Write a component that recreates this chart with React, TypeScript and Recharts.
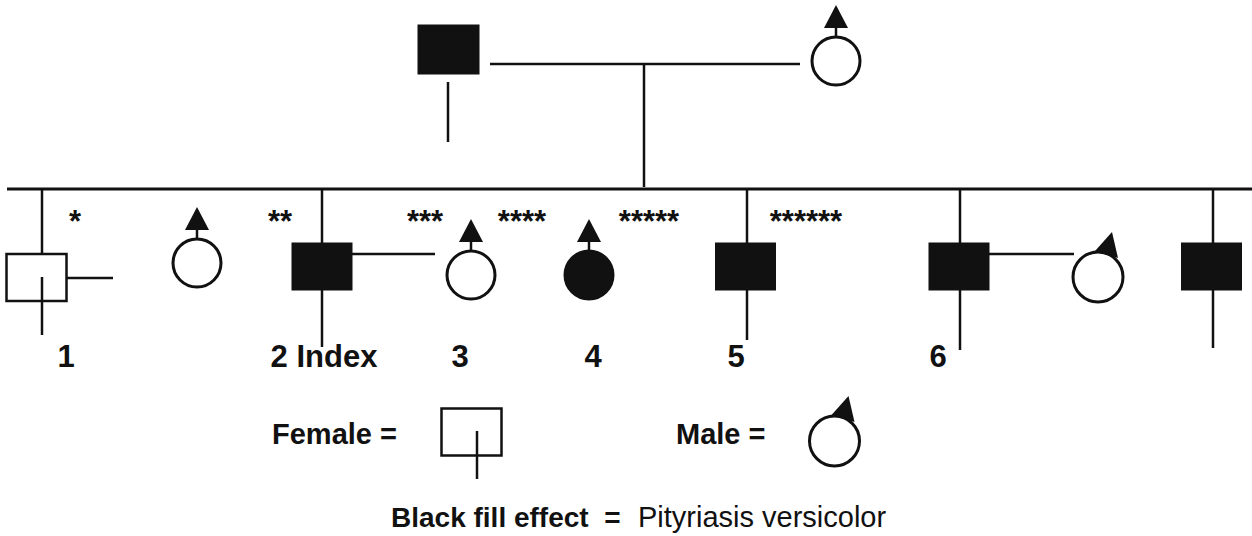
import React from 'react';
import { ScatterChart, Scatter, XAxis, YAxis, ReferenceLine } from 'recharts';

const W = 1252;
const H = 536;
const INK = '#111111';
const FONT = '"Liberation Sans", Arial, Helvetica, sans-serif';

// Pedigree individuals (sex: F = square, M = circle per the chart's legend)
const parents = [
  { id: 'I-1', x: 448.5, y: 49.5, sex: 'F', affected: true, arrow: 'none', big: true },
  { id: 'I-2', x: 836, y: 61, sex: 'M', affected: false, arrow: 'up', big: false },
];

const siblings = [
  { id: '1', x: 36.5, y: 277.5, sex: 'F', affected: false, arrow: 'none', big: false },
  { id: 'II-2', x: 197, y: 263, sex: 'M', affected: false, arrow: 'up', big: false },
  { id: '2', x: 322, y: 266.5, sex: 'F', affected: true, arrow: 'none', big: false },
  { id: '3', x: 471, y: 275, sex: 'M', affected: false, arrow: 'up', big: false },
  { id: '4', x: 589, y: 275, sex: 'M', affected: true, arrow: 'up', big: false },
  { id: '5', x: 745.5, y: 266.5, sex: 'F', affected: true, arrow: 'none', big: false },
  { id: '6', x: 959, y: 266.5, sex: 'F', affected: true, arrow: 'none', big: false },
  { id: '6-spouse', x: 1098, y: 277, sex: 'M', affected: false, arrow: 'tilt', big: false },
  { id: '7', x: 1211.5, y: 266.5, sex: 'F', affected: true, arrow: 'none', big: false },
];

const legendSymbols = [
  { id: 'female', x: 471.5, y: 432, sex: 'F', affected: false, arrow: 'none', big: false },
  { id: 'male', x: 834.5, y: 441, sex: 'M', affected: false, arrow: 'tilt', big: false },
];

// Connecting lines of the pedigree
const connections = [
  { x1: 448, y1: 82, x2: 448, y2: 142, w: 2.5 },
  { x1: 490, y1: 64, x2: 800, y2: 64, w: 2.5 },
  { x1: 644, y1: 64, x2: 644, y2: 187, w: 2.5 },
  { x1: 7, y1: 189, x2: 1252, y2: 189, w: 3 },
  { x1: 42, y1: 189, x2: 42, y2: 254, w: 2.5 },
  { x1: 42, y1: 277, x2: 42, y2: 335, w: 2.5 },
  { x1: 67, y1: 278, x2: 113, y2: 278, w: 2.5 },
  { x1: 322, y1: 189, x2: 322, y2: 243, w: 2.5 },
  { x1: 322, y1: 290, x2: 322, y2: 347, w: 2.5 },
  { x1: 352, y1: 254, x2: 435, y2: 254, w: 2.5 },
  { x1: 747, y1: 189, x2: 747, y2: 243, w: 2.5 },
  { x1: 747, y1: 290, x2: 747, y2: 340, w: 2.5 },
  { x1: 960, y1: 189, x2: 960, y2: 243, w: 2.5 },
  { x1: 960, y1: 290, x2: 960, y2: 350, w: 2.5 },
  { x1: 989, y1: 254, x2: 1074, y2: 254, w: 2.5 },
  { x1: 1213, y1: 189, x2: 1213, y2: 243, w: 2.5 },
  { x1: 1213, y1: 290, x2: 1213, y2: 348, w: 2.5 },
  { x1: 477, y1: 431, x2: 477, y2: 479, w: 2.5 },
];

// Text annotations
const starLabels = [
  { text: '*', x: 75, y: 232 },
  { text: '**', x: 280, y: 232 },
  { text: '***', x: 425, y: 232 },
  { text: '****', x: 522, y: 232 },
  { text: '*****', x: 649, y: 232 },
  { text: '******', x: 806, y: 232 },
];

const memberLabels = [
  { text: '1', x: 66, y: 367 },
  { text: '2 Index', x: 324, y: 367 },
  { text: '3', x: 460, y: 367 },
  { text: '4', x: 593, y: 367 },
  { text: '5', x: 736, y: 367 },
  { text: '6', x: 938, y: 367 },
];

const legendLabels = [
  { text: 'Female =', x: 272, y: 444, kind: 'legend' },
  { text: 'Male =', x: 676, y: 444, kind: 'legend' },
  { text: 'Black fill effect\u00a0\u00a0=', x: 391, y: 527, kind: 'noteBold' },
  { text: 'Pityriasis versicolor', x: 638, y: 527, kind: 'note' },
];

const TEXT_STYLE: Record<string, { size: number; bold: boolean }> = {
  star: { size: 31, bold: true },
  member: { size: 31, bold: true },
  legend: { size: 29, bold: true },
  noteBold: { size: 28, bold: true },
  note: { size: 29, bold: false },
};

const PersonShape = (props: any) => {
  const { cx, cy, payload } = props;
  if (cx == null || cy == null) return null;
  if (payload.sex === 'F') {
    const w = payload.big ? 61 : 60;
    const h = payload.big ? 49 : 47;
    return (
      <rect
        x={cx - w / 2}
        y={cy - h / 2}
        width={w}
        height={h}
        fill={payload.affected ? INK : 'none'}
        stroke={INK}
        strokeWidth={payload.affected ? 1 : 2.5}
      />
    );
  }
  const fill = payload.affected ? INK : '#ffffff';
  const r = payload.arrow === 'tilt' ? 25 : 24;
  const parts: any[] = [];
  parts.push(<circle key="c" cx={cx} cy={cy} r={r} fill={fill} stroke={INK} strokeWidth={3} />);
  if (payload.arrow === 'up') {
    const top = cy - r;
    const base = top - 9;
    const tip = base - 23;
    parts.push(<line key="s" x1={cx} y1={top} x2={cx} y2={base} stroke={INK} strokeWidth={2.5} />);
    parts.push(
      <polygon key="t" points={`${cx},${tip} ${cx - 12},${base} ${cx + 12},${base}`} fill={INK} />
    );
  } else if (payload.arrow === 'tilt') {
    parts.push(
      <polygon
        key="t"
        points={`${cx + 14},${cy - 45} ${cx - 3},${cy - 26} ${cx + 20},${cy - 19}`}
        fill={INK}
      />
    );
  }
  return <g>{parts}</g>;
};

const makeText = (anchor: 'start' | 'middle', defaultKind: string) => (props: any) => {
  const { cx, cy, payload } = props;
  if (cx == null || cy == null) return null;
  const st = TEXT_STYLE[payload.kind || defaultKind];
  return (
    <text
      x={cx}
      y={cy}
      textAnchor={anchor}
      fontFamily={FONT}
      fontSize={st.size}
      fontWeight={st.bold ? 'bold' : 'normal'}
      fill={INK}
    >
      {payload.text}
    </text>
  );
};

const StarText = makeText('middle', 'star');
const MemberText = makeText('middle', 'member');
const LegendText = makeText('start', 'legend');

export default function App() {
  return (
    <div style={{ position: 'absolute', left: 0, top: 0, width: W, height: H, background: '#ffffff' }}>
      <ScatterChart width={W} height={H} margin={{ top: 0, right: 0, bottom: 0, left: 0 }}>
        <XAxis type="number" dataKey="x" domain={[0, W]} hide allowDataOverflow />
        <YAxis type="number" dataKey="y" domain={[0, H]} reversed hide allowDataOverflow />
        {connections.map((c, i) => (
          <ReferenceLine
            key={`l${i}`}
            segment={[{ x: c.x1, y: c.y1 }, { x: c.x2, y: c.y2 }]}
            stroke={INK}
            strokeWidth={c.w}
            ifOverflow="visible"
          />
        ))}
        <Scatter data={parents} shape={PersonShape} isAnimationActive={false} />
        <Scatter data={siblings} shape={PersonShape} isAnimationActive={false} />
        <Scatter data={legendSymbols} shape={PersonShape} isAnimationActive={false} />
        <Scatter data={starLabels} shape={StarText} isAnimationActive={false} />
        <Scatter data={memberLabels} shape={MemberText} isAnimationActive={false} />
        <Scatter data={legendLabels} shape={LegendText} isAnimationActive={false} />
      </ScatterChart>
    </div>
  );
}
